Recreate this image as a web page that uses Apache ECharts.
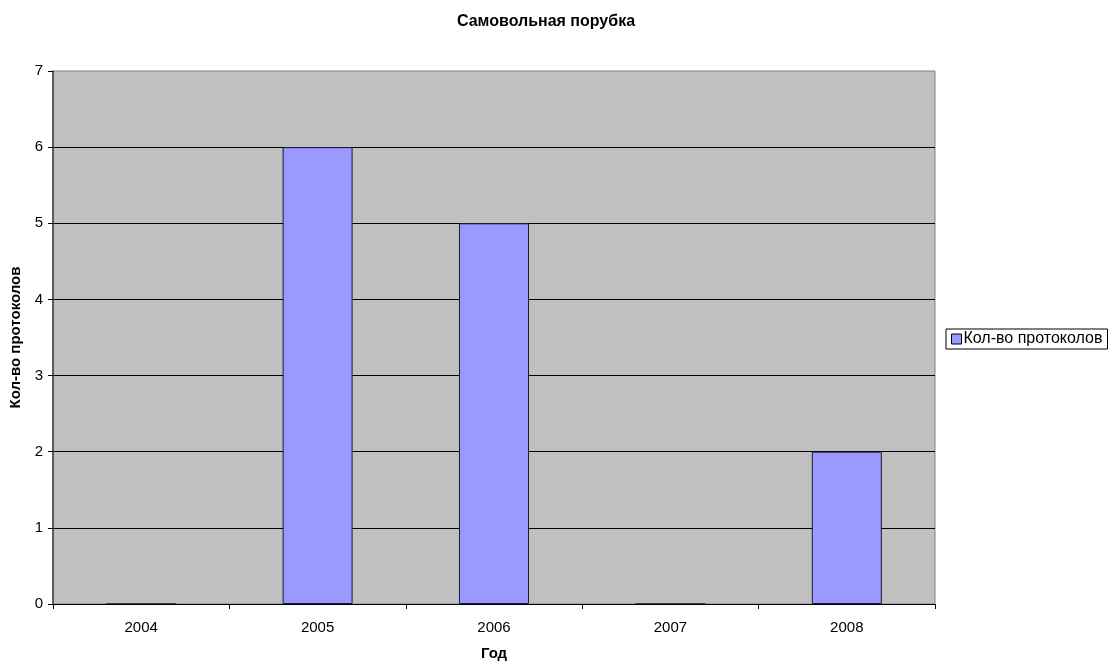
<!DOCTYPE html>
<html>
<head>
<meta charset="utf-8">
<script src="https://cdn.jsdelivr.net/npm/echarts@6/dist/echarts.min.js"></script>
<style>
  html, body { margin: 0; padding: 0; background: #fff; }
  #chart { width: 1116px; height: 668px; }
</style>
</head>
<body>
<div id="chart"></div>
<script>
// Годы и число протоколов по самовольной порубке
const years = ['2004', '2005', '2006', '2007', '2008'];
const protocols = [0, 6, 5, 0, 2];
const seriesName = 'Кол-во протоколов';

const font = '"Liberation Sans", Arial, sans-serif';
const chart = echarts.init(document.getElementById('chart'));

chart.setOption({
  animation: false,
  backgroundColor: '#ffffff',
  title: {
    text: 'Самовольная порубка',
    left: 541,
    textAlign: 'center',
    top: 9,
    textStyle: { fontFamily: font, fontSize: 16, fontWeight: 'bold', color: '#000' }
  },
  legend: {
    data: [seriesName],
    left: 946,
    top: 329,
    orient: 'vertical',
    borderColor: '#000',
    borderWidth: 1,
    padding: [2, 5, 2, 5],
    itemWidth: 10,
    itemHeight: 10,
    itemGap: 0,
    icon: 'rect',
    textStyle: { fontFamily: font, fontSize: 16, color: '#000', padding: [0, 0, 0, -3] },
    itemStyle: { borderColor: '#000', borderWidth: 1 }
  },
  grid: {
    left: 53,
    right: 181,
    top: 71,
    bottom: 64,
    show: true,
    backgroundColor: '#c0c0c0',
    borderColor: '#808080',
    borderWidth: 1
  },
  xAxis: {
    type: 'category',
    data: years,
    name: 'Год',
    nameLocation: 'middle',
    nameGap: 42,
    nameTextStyle: { fontFamily: font, fontSize: 15, fontWeight: 'bold', color: '#000' },
    axisLine: { show: true, lineStyle: { color: '#000', width: 1 } },
    axisTick: { show: true, inside: false, length: 5, lineStyle: { color: '#000' } },
    axisLabel: { fontFamily: font, fontSize: 15, color: '#000', margin: 16 },
    splitLine: { show: false },
    z: 5
  },
  yAxis: {
    type: 'value',
    min: 0,
    max: 7,
    interval: 1,
    name: 'Кол-во протоколов',
    nameLocation: 'middle',
    nameGap: 30,
    nameRotate: 90,
    nameTextStyle: { fontFamily: font, fontSize: 15, fontWeight: 'bold', color: '#000' },
    axisLine: { show: true, lineStyle: { color: '#404040', width: 1.5 } },
    axisTick: { show: true, inside: false, length: 5, lineStyle: { color: '#000' } },
    axisLabel: { fontFamily: font, fontSize: 15, color: '#000', margin: 10 },
    splitLine: { show: true, showMaxLine: false, lineStyle: { color: '#000', width: 1 } }
  },
  series: [{
    name: seriesName,
    type: 'bar',
    data: protocols,
    barWidth: 70,
    itemStyle: { color: '#9999ff', borderColor: '#1a1a33', borderWidth: 1 }
  }]
});
</script>
</body>
</html>
